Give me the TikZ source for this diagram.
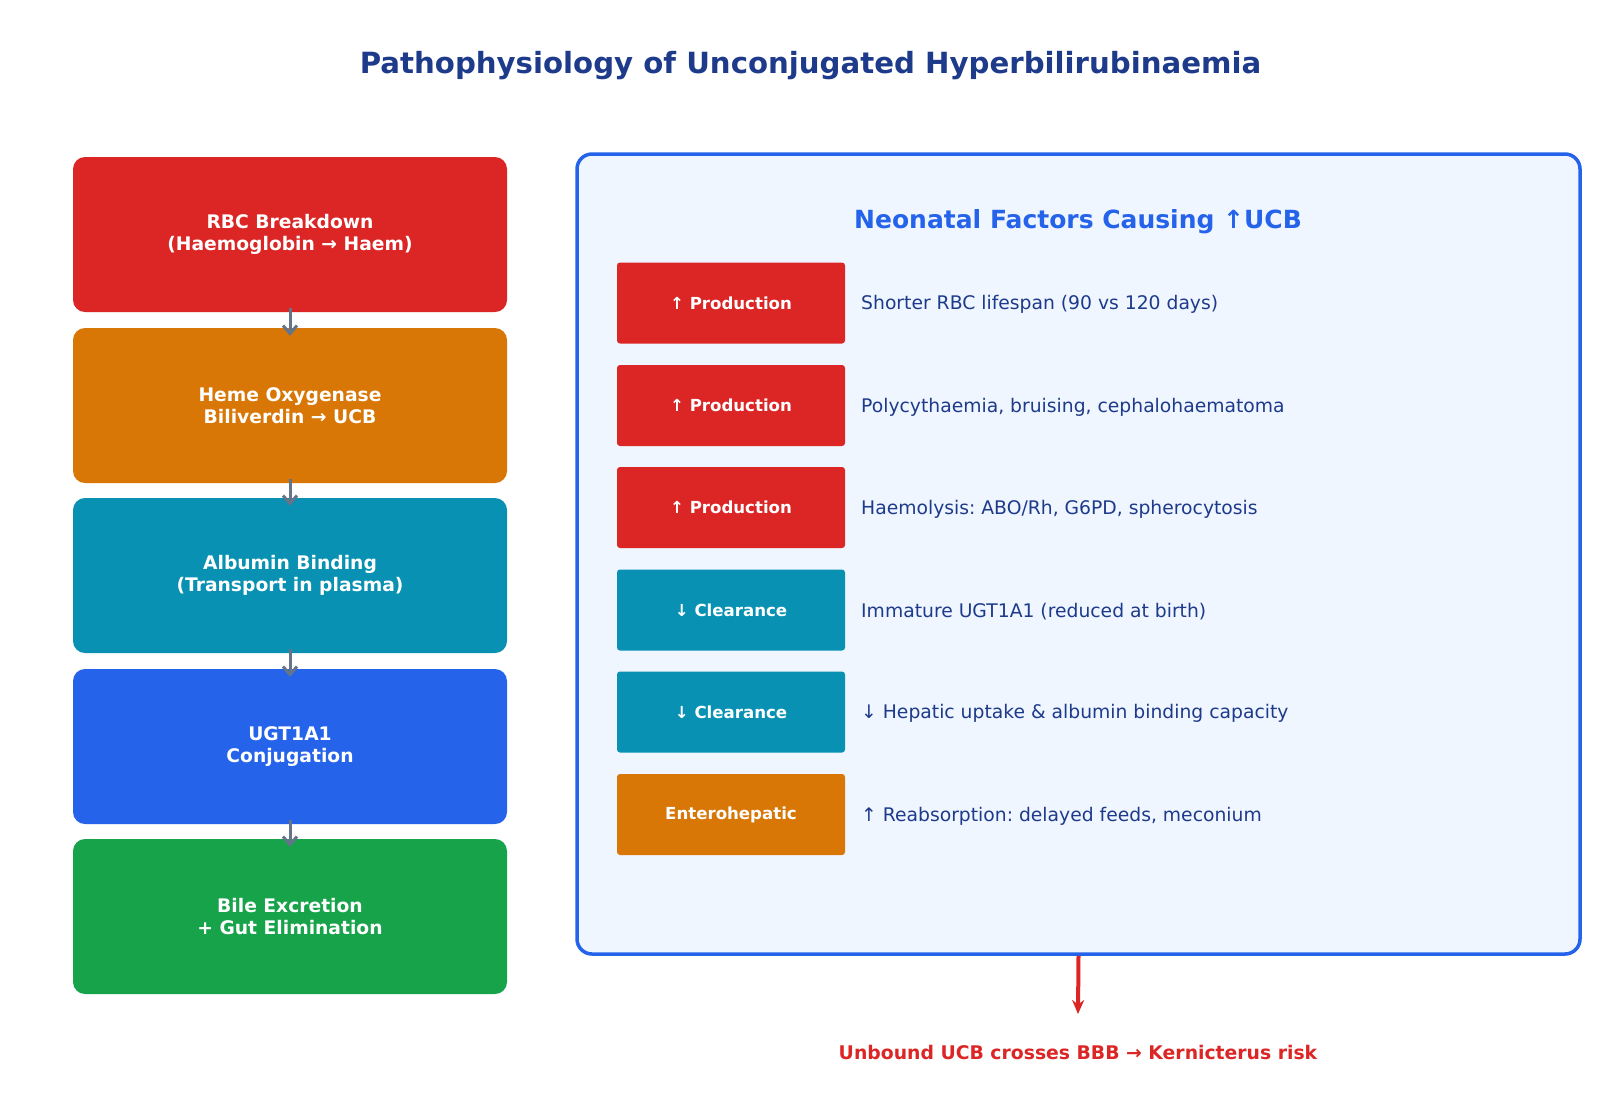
\documentclass[tikz,border=0pt]{standalone}
\usepackage{fontspec}
\setmainfont{DejaVu Sans}
\usetikzlibrary{arrows.meta}
\frenchspacing
\definecolor{cred}{HTML}{DC2626}
\definecolor{corange}{HTML}{D97706}
\definecolor{cteal}{HTML}{0891B2}
\definecolor{cblue}{HTML}{2563EB}
\definecolor{cgreen}{HTML}{16A34A}
\definecolor{cnavy}{HTML}{1E3A8A}
\definecolor{cpanel}{HTML}{EFF6FF}
\definecolor{cslate}{HTML}{64748B}
\tikzset{
  stagebox/.style={rectangle, rounded corners=12pt, minimum width=434pt, minimum height=155pt, inner sep=0pt, text=white, align=center, font=\fontsize{18.7}{22}\selectfont\bfseries},
  tagbox/.style={rectangle, rounded corners=3pt, minimum width=228pt, minimum height=81pt, inner sep=0pt, text=white, font=\fontsize{16.6}{19}\selectfont\bfseries},
  desc/.style={anchor=west, inner sep=0pt, text=cnavy, font=\fontsize{18.75}{22}\selectfont},
  flowarrow/.style={draw=cslate, line width=3pt, -{Straight Barb[length=8pt,width=14pt,line width=3pt]}},
  riskarrow/.style={draw=cred, line width=4pt, -{Stealth[length=14pt,width=12pt]}}
}
\begin{document}
\begin{tikzpicture}[x=1pt,y=-1pt]
\useasboundingbox (0,0) rectangle (1621,1096);
\fill[white] (0,0) rectangle (1621,1096);
\node[text=cnavy, font=\fontsize{29.2}{33}\selectfont\bfseries] (title) at (810.5,66) {Pathophysiology of Unconjugated Hyperbilirubinaemia};

\node[stagebox, fill=cred] (b1) at (290,234.5) {RBC Breakdown\\(Haemoglobin → Haem)};
\node[stagebox, fill=corange] (b2) at (290,405.5) {Heme Oxygenase\\Biliverdin → UCB};
\node[stagebox, fill=cteal] (b3) at (290,575.5) {Albumin Binding\\(Transport in plasma)};
\node[stagebox, fill=cblue] (b4) at (290,746.5) {UGT1A1\\Conjugation};
\node[stagebox, fill=cgreen] (b5) at (290,916.5) {Bile Excretion\\+ Gut Elimination};

\draw[flowarrow] ([yshift=4pt]b1.south) -- ([yshift=-8pt]b2.north);
\draw[flowarrow] ([yshift=4pt]b2.south) -- ([yshift=-8pt]b3.north);
\draw[flowarrow] ([yshift=4pt]b3.south) -- ([yshift=-8pt]b4.north);
\draw[flowarrow] ([yshift=4pt]b4.south) -- ([yshift=-8pt]b5.north);

\node[rectangle, rounded corners=15pt, draw=cblue, line width=3.5pt, fill=cpanel, minimum width=1003pt, minimum height=800pt, inner sep=0pt] (panel) at (1078.5,554) {};
\node[text=cblue, font=\fontsize{25}{29}\selectfont\bfseries] (ptitle) at (1078,222) {Neonatal Factors Causing ↑UCB};

\node[tagbox, fill=cred] (t1) at (731,303) {↑ Production};
\node[tagbox, fill=cred] (t2) at (731,405.5) {↑ Production};
\node[tagbox, fill=cred] (t3) at (731,507.5) {↑ Production};
\node[tagbox, fill=cteal] (t4) at (731,610) {↓ Clearance};
\node[tagbox, fill=cteal] (t5) at (731,712) {↓ Clearance};
\node[tagbox, fill=corange] (t6) at (731,814.5) {Enterohepatic};

\node[desc] (d1) at (861,304.5) {Shorter RBC lifespan (90 vs 120 days)};
\node[desc] (d2) at (861,407) {Polycythaemia, bruising, cephalohaematoma};
\node[desc] (d3) at (861,509) {Haemolysis: ABO/Rh, G6PD, spherocytosis};
\node[desc] (d4) at (861,611.5) {Immature UGT1A1 (reduced at birth)};
\node[desc] (d5) at (861,713.5) {↓ Hepatic uptake \& albumin binding capacity};
\node[desc] (d6) at (861,816) {↑ Reabsorption: delayed feeds, meconium};

\coordinate (riskend) at (1078,1014);
\draw[riskarrow] (panel.south) -- (riskend);
\node[text=cred, font=\fontsize{18.8}{22}\selectfont\bfseries] (risk) at (1078,1052) {Unbound UCB crosses BBB → Kernicterus risk};
\end{tikzpicture}
\end{document}
